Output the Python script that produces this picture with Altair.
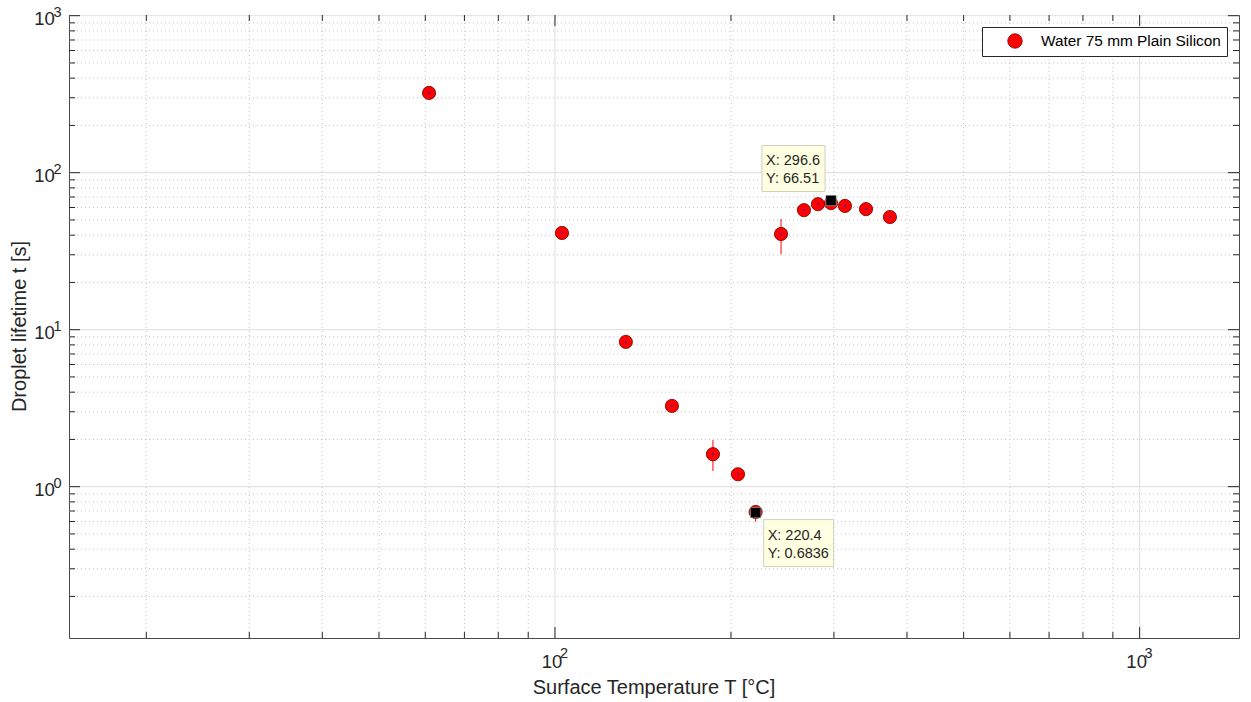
import math
import altair as alt
import pandas as pd

# ---------------- data ----------------
series_name = "Water 75 mm Plain Silicon"
temps = [60.9, 102.8, 132.2, 158.5, 186.3, 205.6, 220.4, 243.6, 266.6, 281.7, 296.6, 313.3, 340.4, 374.0]
lifetimes = [322.0, 41.3, 8.36, 3.27, 1.61, 1.20, 0.69, 40.7, 57.7, 63.0, 64.0, 61.4, 58.6, 52.2]

err_T = [186.3, 220.4, 243.6]
err_lo = [1.26, 0.60, 30.3]
err_hi = [1.98, 0.74, 50.7]

tip_T = [296.6, 220.4]
tip_L = [66.51, 0.6836]
tip_xtxt = ["X: 296.6", "X: 220.4"]
tip_ytxt = ["Y: 66.51", "Y: 0.6836"]

x_major = [100, 1000]
x_minor = [20, 30, 40, 50, 60, 70, 80, 90, 200, 300, 400, 500, 600, 700, 800, 900]
y_major = [1, 10, 100, 1000]
y_minor = [0.2, 0.3, 0.4, 0.5, 0.6, 0.7, 0.8, 0.9,
           2, 3, 4, 5, 6, 7, 8, 9,
           20, 30, 40, 50, 60, 70, 80, 90,
           200, 300, 400, 500, 600, 700, 800, 900]

x_domain = [14.75, 1479]
y_domain = [0.1087, 1010]

x_title = "Surface Temperature T [°C]"
y_title = "Droplet lifetime t [s]"

# ---------------- layout / style ----------------
W, H = 1170, 623
FONT = "Liberation Sans"
TXT = "#262626"

xs = alt.Scale(type="log", domain=x_domain, nice=False, zero=False)
ys = alt.Scale(type="log", domain=y_domain, nice=False, zero=False)

pts = pd.DataFrame({"T": temps, "L": lifetimes, "series": [series_name] * len(temps)})
errs = pd.DataFrame({"T": err_T, "lo": err_lo, "hi": err_hi})
xmaj = pd.DataFrame({"v": x_major, "e": [str(int(round(math.log10(v)))) for v in x_major]})
xmin = pd.DataFrame({"v": x_minor})
ymaj = pd.DataFrame({"v": y_major, "e": [str(int(round(math.log10(v)))) for v in y_major]})
ymin = pd.DataFrame({"v": y_minor})

X = lambda f="v": alt.X(f"{f}:Q", scale=xs, axis=None)
Y = lambda f="v": alt.Y(f"{f}:Q", scale=ys, axis=None)

layers = []

# grid
layers.append(alt.Chart(xmin).mark_rule(color="#c4c4c4", strokeWidth=1, strokeDash=[1, 3]).encode(
    x=X(), y=alt.value(0), y2=alt.value(H)))
layers.append(alt.Chart(ymin).mark_rule(color="#c4c4c4", strokeWidth=1, strokeDash=[1, 3]).encode(
    y=Y(), x=alt.value(0), x2=alt.value(W)))
layers.append(alt.Chart(xmaj).mark_rule(color="#e3e3e3", strokeWidth=1.2).encode(
    x=X(), y=alt.value(0), y2=alt.value(H)))
layers.append(alt.Chart(ymaj).mark_rule(color="#e3e3e3", strokeWidth=1.2).encode(
    y=Y(), x=alt.value(0), x2=alt.value(W)))

# error bars
layers.append(alt.Chart(errs).mark_rule(color="#ff0000", strokeWidth=1).encode(
    x=X("T"), y=Y("lo"), y2="hi:Q"))

# data points with legend
layers.append(alt.Chart(pts).mark_circle(size=175, opacity=1, stroke="#6e0000", strokeWidth=0.8).encode(
    x=X("T"), y=Y("L"),
    color=alt.Color("series:N", scale=alt.Scale(domain=[series_name], range=["#ff0000"]),
                    legend=alt.Legend(title=None, orient="top-right", offset=12, padding=6,
                                      strokeColor="#262626", fillColor="white", cornerRadius=0,
                                      labelFont=FONT, labelFontSize=15.4, labelColor="#000000",
                                      labelLimit=600,
                                      symbolType="circle", symbolSize=210,
                                      symbolStrokeColor="#6e0000", symbolStrokeWidth=0.8,
                                      symbolOffset=19, labelOffset=18))))
layers.append(alt.Chart(pts).mark_square(size=3, color="#2020ff", opacity=0.8).encode(
    x=X("T"), y=Y("L")))

# data tips
tips = pd.DataFrame({"T": tip_T, "L": tip_L, "xt": tip_xtxt, "yt": tip_ytxt, "k": [0, 1]})
place = [
    dict(bx=-69, bx2=-6, by=-55, by2=-9, tx=-65, ty1=-39, ty2=-21),
    dict(bx=8, bx2=78, by=7, by2=54, tx=12, ty1=23, ty2=41),
]
for k, p in enumerate(place):
    base = alt.Chart(tips).transform_filter(alt.datum.k == k)
    layers.append(base.mark_square(size=110, color="black", opacity=1, stroke="#dddddd", strokeWidth=0.5).encode(
        x=X("T"), y=Y("L")))
    layers.append(base.mark_rect(fill="#ffffe1", stroke="#d0d0c0", strokeWidth=1,
                                 xOffset=p["bx"], x2Offset=p["bx2"], yOffset=p["by"], y2Offset=p["by2"]).encode(
        x=X("T"), x2="T:Q", y=Y("L"), y2="L:Q"))
    layers.append(base.mark_text(font=FONT, fontSize=14.5, color=TXT, align="left", baseline="middle",
                                 dx=p["tx"], dy=p["ty1"]).encode(x=X("T"), y=Y("L"), text="xt:N"))
    layers.append(base.mark_text(font=FONT, fontSize=14.5, color=TXT, align="left", baseline="middle",
                                 dx=p["tx"], dy=p["ty2"]).encode(x=X("T"), y=Y("L"), text="yt:N"))

# inward ticks on all four sides
def xticks(df, length):
    return [
        alt.Chart(df).mark_rule(color=TXT, strokeWidth=1).encode(x=X(), y=alt.value(H), y2=alt.value(H - length)),
        alt.Chart(df).mark_rule(color=TXT, strokeWidth=1).encode(x=X(), y=alt.value(0), y2=alt.value(length)),
    ]

def yticks(df, length):
    return [
        alt.Chart(df).mark_rule(color=TXT, strokeWidth=1).encode(y=Y(), x=alt.value(0), x2=alt.value(length)),
        alt.Chart(df).mark_rule(color=TXT, strokeWidth=1).encode(y=Y(), x=alt.value(W), x2=alt.value(W - length)),
    ]

layers += xticks(xmin, 6) + xticks(xmaj, 11) + yticks(ymin, 6) + yticks(ymaj, 11)

# tick labels (10 with superscript exponent)
layers.append(alt.Chart(xmaj).mark_text(font=FONT, fontSize=18.5, color=TXT, align="center", baseline="middle",
                                        dx=-3).encode(x=X(), y=alt.value(H + 23.5), text=alt.value("10")))
layers.append(alt.Chart(xmaj).mark_text(font=FONT, fontSize=14.5, color=TXT, align="center", baseline="middle",
                                        dx=9).encode(x=X(), y=alt.value(H + 15.5), text="e:N"))
layers.append(alt.Chart(ymaj).mark_text(font=FONT, fontSize=18.5, color=TXT, align="center", baseline="middle",
                                        dy=3).encode(y=Y(), x=alt.value(-24.5), text=alt.value("10")))
layers.append(alt.Chart(ymaj).mark_text(font=FONT, fontSize=14.5, color=TXT, align="center", baseline="middle",
                                        dy=-3).encode(y=Y(), x=alt.value(-11.5), text="e:N"))

# axis titles
layers.append(alt.Chart(pd.DataFrame({"t": [x_title]})).mark_text(
    font=FONT, fontSize=20, color=TXT, align="center", baseline="alphabetic").encode(
    x=alt.value(W / 2), y=alt.value(H + 56), text="t:N"))
layers.append(alt.Chart(pd.DataFrame({"t": [y_title]})).mark_text(
    font=FONT, fontSize=20, color=TXT, align="center", baseline="alphabetic", angle=270).encode(
    x=alt.value(-43), y=alt.value(H / 2), text="t:N"))

chart = alt.layer(*layers).properties(
    width=W, height=H,
    padding={"left": 69, "top": 15, "right": 12, "bottom": 64},
    autosize=alt.AutoSizeParams(type="none"),
    background="white",
).configure_view(stroke="#4a4a4a", strokeWidth=1)

chart.save("out.html", embed_options={"renderer": "svg", "actions": False})
